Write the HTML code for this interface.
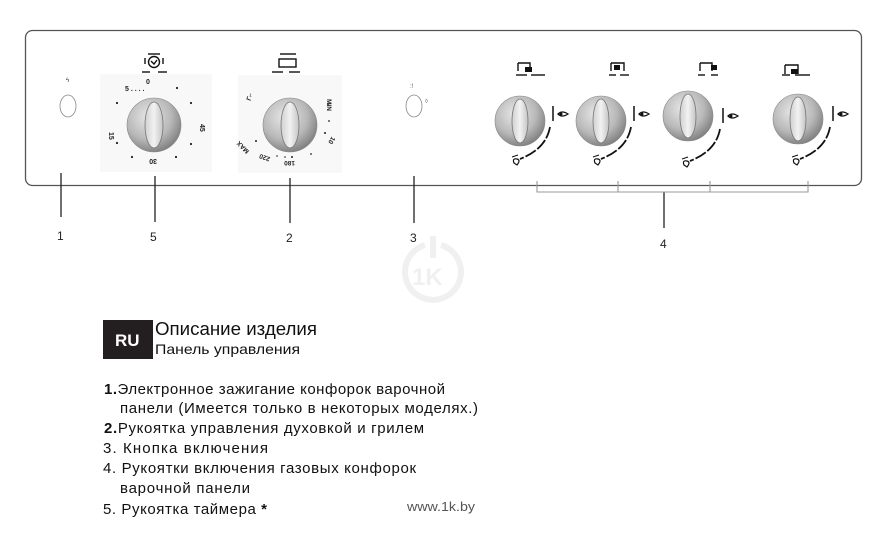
<!DOCTYPE html>
<html><head><meta charset="utf-8"><style>
html,body{margin:0;padding:0;background:#fff;}
svg{display:block;font-family:"Liberation Sans",sans-serif;}
</style></head><body>
<svg width="882" height="534" viewBox="0 0 882 534" xmlns="http://www.w3.org/2000/svg">
<defs>
<radialGradient id="kg" cx="0.4" cy="0.35" r="0.7">
<stop offset="0" stop-color="#e8e8e8"/><stop offset="0.6" stop-color="#b8b8b8"/><stop offset="1" stop-color="#7a7a7a"/>
</radialGradient>
<linearGradient id="eg" x1="0" y1="0" x2="1" y2="0">
<stop offset="0" stop-color="#d0d0d0"/><stop offset="0.5" stop-color="#f2f2f2"/><stop offset="1" stop-color="#c4c4c4"/>
</linearGradient>
<g id="knob">
<circle r="27" fill="url(#kg)" stroke="#888" stroke-width="0.6"/>
<ellipse rx="9" ry="23" fill="url(#eg)" stroke="#777" stroke-width="0.8"/>
</g>
<g id="bk">
<circle r="25" fill="url(#kg)" stroke="#888" stroke-width="0.6"/>
<ellipse rx="8" ry="22" fill="url(#eg)" stroke="#777" stroke-width="0.8"/>
</g>
<g id="flames">
<line x1="33" y1="-15" x2="33" y2="0" stroke="#111" stroke-width="1.5"/>
<path d="M38 -7 q4 -4 10 0 q-6 4 -10 0z" fill="none" stroke="#111" stroke-width="1.3"/>
<circle cx="41" cy="-7" r="1.5" fill="#111"/>
<path d="M30 6 Q26 28 0 38" fill="none" stroke="#111" stroke-width="1.8" stroke-dasharray="12 2"/>
<line x1="-8" y1="36" x2="-2" y2="34" stroke="#111" stroke-width="1"/>
<path d="M-6 42 q-2 -5 3 -4 q4 1 0 6z" fill="none" stroke="#111" stroke-width="1.2"/>
</g>
</defs>

<rect x="25.5" y="30.5" width="836" height="155" rx="7" fill="#fff" stroke="#555" stroke-width="1.3"/>

<ellipse cx="68" cy="106" rx="8" ry="11" fill="#fff" stroke="#888" stroke-width="0.8"/>
<text x="66" y="82" font-size="6" fill="#333">ϟ</text>

<rect x="100" y="74" width="112" height="98" fill="#f8f8f8"/>
<g font-size="7" fill="#222" font-weight="bold">
<text x="146" y="84">0</text>
<text x="125" y="91">5 . . . .</text>
<text x="121" y="128" transform="rotate(90 113 124)">15</text>
<text x="198" y="122" transform="rotate(90 198 124)">45</text>
<text x="149" y="163" transform="rotate(180 153 161)">30</text>
</g>
<g fill="#222"><circle cx="177" cy="88" r="1.1"/><circle cx="191" cy="103" r="1.1"/><circle cx="191" cy="144" r="1.1"/><circle cx="176" cy="157" r="1.1"/><circle cx="132" cy="157" r="1.1"/><circle cx="117" cy="143" r="1.1"/><circle cx="117" cy="103" r="1.1"/></g>
<use href="#knob" x="154" y="125"/>
<g stroke="#111" fill="none" stroke-width="1.4">
<line x1="148" y1="54" x2="160" y2="54"/>
<circle cx="154" cy="62" r="5.5"/>
<path d="M151 61 l3 3 l3 -4"/>
<line x1="145" y1="58" x2="145" y2="64"/><line x1="163" y1="58" x2="163" y2="64"/>
<line x1="142" y1="72" x2="150" y2="72"/><line x1="158" y1="72" x2="167" y2="72"/>
</g>

<rect x="238" y="75" width="104" height="98" fill="#f8f8f8"/>
<g font-size="6.5" fill="#222" font-weight="bold">
<text x="327" y="103" transform="rotate(90 329 101)">MIN</text>
<text x="327" y="135" transform="rotate(120 329 137)">10</text>
<text x="285" y="165" transform="rotate(180 290 163)">180</text>
<text x="262" y="160" transform="rotate(200 266 158)">220</text>
<text x="240" y="145" transform="rotate(225 246 146)">MAX</text>
<text x="244" y="100" transform="rotate(-70 248 96)">Γ⌐</text>
</g>
<g fill="#222"><circle cx="328" cy="105" r="1"/><circle cx="329" cy="121" r="0.9"/><circle cx="325" cy="133" r="1"/><circle cx="311" cy="154" r="0.9"/><circle cx="292" cy="157" r="1"/><circle cx="285" cy="157" r="0.8"/><circle cx="277" cy="156" r="0.8"/><circle cx="256" cy="141" r="1"/></g>
<use href="#knob" x="290" y="125"/>
<g stroke="#111" fill="none" stroke-width="1.4">
<line x1="280" y1="54" x2="296" y2="54"/>
<rect x="279" y="59" width="17" height="8"/>
<line x1="272" y1="72" x2="283" y2="72"/><line x1="289" y1="72" x2="300" y2="72"/>
</g>

<ellipse cx="414" cy="106" rx="8" ry="11" fill="#fff" stroke="#888" stroke-width="0.8"/>
<text x="410" y="88" font-size="6" fill="#555">:!</text>
<text x="425" y="103" font-size="6" fill="#555">◊</text>

<g stroke="#111" stroke-width="1.4" fill="none">
<path d="M518 63 h12 v8 M518 63 v8"/><line x1="516" y1="75" x2="527" y2="75"/><line x1="531" y1="75" x2="545" y2="75"/>
<path d="M611 63 h13 v8 M611 63 v8"/><line x1="609" y1="75" x2="616" y2="75"/><line x1="620" y1="75" x2="629" y2="75"/>
<path d="M700 63 h12 v8 M700 63 v8"/><line x1="698" y1="75" x2="705" y2="75"/><line x1="711" y1="75" x2="718" y2="75"/>
<path d="M785 65 h13 v9 M785 65 v9"/><line x1="782" y1="75" x2="790" y2="75"/><line x1="795" y1="75" x2="810" y2="75"/>
</g>
<g fill="#111">
<rect x="525" y="67" width="7" height="5"/>
<rect x="614" y="65" width="6" height="5"/>
<rect x="711" y="65" width="6" height="5"/>
<rect x="791" y="69" width="7" height="5"/>
</g>
<use href="#bk" x="520" y="121"/><use href="#flames" x="520" y="121"/>
<use href="#bk" x="601" y="121"/><use href="#flames" x="601" y="121"/>
<use href="#bk" x="688" y="116"/><use href="#flames" x="690" y="123"/>
<use href="#bk" x="798" y="119"/><use href="#flames" x="800" y="121"/>

<g stroke="#222" stroke-width="1.3">
<line x1="61" y1="173" x2="61" y2="217"/>
<line x1="155" y1="176" x2="155" y2="222"/>
<line x1="290" y1="178" x2="290" y2="223"/>
<line x1="414" y1="176" x2="414" y2="223"/>
<line x1="664" y1="192" x2="664" y2="228"/>
</g>
<g stroke="#999" stroke-width="1.1" fill="none">
<polyline points="537,181 537,192 808,192 808,181"/>
<line x1="618" y1="181" x2="618" y2="192"/>
<line x1="710" y1="181" x2="710" y2="192"/>
</g>
<g font-size="12" fill="#222">
<text x="57" y="240">1</text>
<text x="150" y="241">5</text>
<text x="286" y="242">2</text>
<text x="410" y="242">3</text>
<text x="660" y="248">4</text>
</g>

<g opacity="0.12" fill="none" stroke="#888" stroke-width="6">
<path d="M425 245 a28 28 0 1 0 16 0"/>
<line x1="433" y1="236" x2="433" y2="258"/>
</g>
<text x="412" y="285" font-size="24" font-weight="bold" fill="#888" opacity="0.12">1K</text>

<rect x="103" y="320" width="50" height="39" fill="#231f20"/>
<text x="115" y="346" font-size="17" font-weight="bold" fill="#fff">RU</text>
<text x="155" y="335" font-size="18" fill="#111" textLength="162" lengthAdjust="spacingAndGlyphs">Описание изделия</text>
<text x="155" y="354" font-size="14" fill="#111" textLength="145" lengthAdjust="spacingAndGlyphs">Панель управления</text>
<g font-size="15" fill="#111">
<text x="104" y="394" textLength="341" lengthAdjust="spacing"><tspan font-weight="bold">1.</tspan>Электронное зажигание конфорок варочной</text>
<text x="120" y="413" textLength="358" lengthAdjust="spacing">панели (Имеется только в некоторых моделях.)</text>
<text x="104" y="433" textLength="320" lengthAdjust="spacing"><tspan font-weight="bold">2.</tspan>Рукоятка управления духовкой и грилем</text>
<text x="103" y="453" textLength="165" lengthAdjust="spacing">3. Кнопка включения</text>
<text x="103" y="473" textLength="313" lengthAdjust="spacing">4.  Рукоятки включения газовых конфорок</text>
<text x="120" y="493" textLength="130" lengthAdjust="spacing">варочной панели</text>
<text x="103" y="514" textLength="164" lengthAdjust="spacing">5.  Рукоятка таймера <tspan font-weight="bold">*</tspan></text>
</g>
<text x="407" y="511" font-size="13" fill="#555" textLength="68" lengthAdjust="spacingAndGlyphs">www.1k.by</text>
</svg>
</body></html>
